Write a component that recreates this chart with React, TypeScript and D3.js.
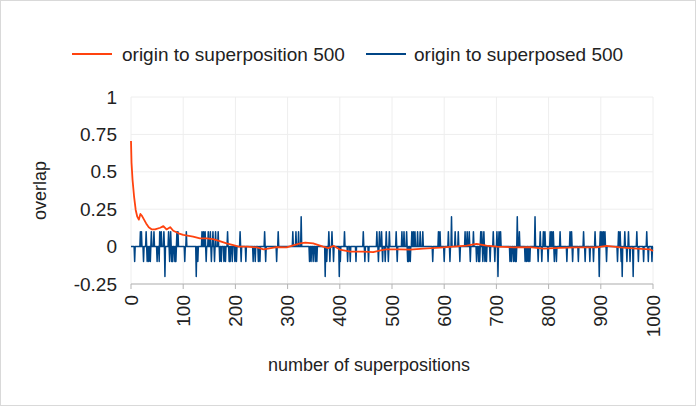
import React from "react";
import * as d3 from "d3";

// orange series: origin to superposition 500
const orangeX = [0, 1, 3, 6, 9, 12, 15, 18, 21, 25, 29, 34, 40, 46, 56, 62, 68, 75, 81, 91, 100, 119, 132, 145, 157, 170, 183, 196, 206, 222, 241, 254, 279, 298, 324, 334, 349, 368, 378, 388, 400, 420, 445, 464, 476, 489, 515, 535, 560, 592, 618, 643, 662, 681, 701, 733, 764, 790, 822, 854, 892, 911, 937, 969, 994, 1000];
const orangeY = [0.706, 0.56, 0.445, 0.33, 0.245, 0.2, 0.18, 0.218, 0.205, 0.18, 0.155, 0.13, 0.115, 0.115, 0.126, 0.137, 0.115, 0.13, 0.106, 0.089, 0.078, 0.066, 0.055, 0.055, 0.05, 0.037, 0.022, 0.01, 0, 0, -0.005, -0.018, -0.004, -0.005, 0.022, 0.027, 0.022, 0, -0.01, 0.005, -0.02, -0.033, -0.033, -0.037, -0.027, -0.018, -0.018, -0.02, -0.013, -0.007, 0, 0.007, 0.018, 0.007, 0, -0.005, -0.004, -0.013, -0.009, -0.005, -0.005, 0.005, -0.005, -0.013, -0.018, -0.03];

// blue series: origin to superposed 500, zero except at these steps
const blueSpikeX = [7, 18, 20, 24, 29, 31, 34, 37, 39, 44, 50, 54, 55, 58, 63, 65, 72, 74, 76, 78, 80, 84, 86, 88, 90, 103, 106, 125, 128, 136, 139, 142, 144, 148, 152, 154, 157, 160, 162, 167, 170, 173, 178, 181, 185, 188, 190, 194, 199, 202, 209, 211, 220, 234, 238, 244, 247, 256, 258, 279, 282, 310, 316, 321, 326, 342, 345, 349, 353, 356, 372, 375, 379, 381, 385, 388, 399, 401, 409, 415, 420, 431, 445, 448, 455, 471, 474, 476, 480, 482, 487, 489, 493, 495, 508, 510, 519, 523, 528, 530, 532, 535, 538, 541, 544, 549, 554, 559, 578, 589, 592, 600, 608, 611, 614, 621, 627, 630, 640, 644, 648, 650, 656, 662, 666, 668, 670, 672, 674, 676, 678, 681, 688, 694, 697, 701, 703, 705, 708, 726, 729, 733, 736, 738, 740, 744, 755, 758, 761, 764, 774, 780, 784, 787, 790, 793, 799, 803, 806, 809, 811, 815, 822, 835, 841, 844, 846, 857, 867, 870, 879, 886, 889, 897, 899, 902, 905, 908, 911, 932, 934, 937, 939, 941, 946, 950, 953, 956, 962, 969, 972, 982, 988, 991, 998];
const blueSpikeY = [-0.1, 0.1, 0.1, -0.1, 0.1, -0.1, -0.1, -0.1, 0.1, 0.1, -0.1, -0.1, 0.1, 0.1, 0.1, -0.2, 0.1, -0.1, 0.1, -0.1, -0.1, -0.1, -0.1, 0.1, 0.1, -0.1, 0.1, -0.2, -0.1, 0.1, 0.1, 0.1, -0.1, 0.1, 0.1, -0.1, 0.1, -0.1, 0.1, 0.1, -0.1, -0.1, -0.1, -0.1, 0.1, -0.1, -0.1, -0.1, -0.1, -0.1, 0.1, -0.1, -0.1, -0.1, -0.1, -0.1, -0.1, 0.1, -0.1, -0.1, 0.1, 0.1, 0.1, 0.1, 0.2, -0.1, -0.1, -0.1, -0.1, -0.1, -0.2, -0.1, 0.1, -0.1, 0.1, -0.1, -0.2, -0.1, 0.1, -0.1, -0.1, -0.1, 0.1, -0.1, -0.1, 0.1, -0.1, 0.1, 0.1, -0.1, -0.1, 0.1, -0.1, 0.1, 0.1, -0.1, 0.1, 0.1, 0.1, -0.1, -0.1, -0.1, 0.1, 0.1, 0.1, 0.1, 0.1, 0.1, -0.1, 0.1, 0.1, -0.1, 0.1, -0.1, 0.2, 0.1, 0.1, -0.1, 0.1, 0.1, 0.1, -0.1, 0.1, -0.1, -0.1, -0.1, 0.1, 0.1, -0.1, 0.1, -0.1, -0.1, -0.1, 0.1, -0.1, 0.1, -0.2, 0.1, 0.1, -0.1, -0.1, -0.1, -0.1, -0.1, 0.2, 0.1, -0.1, -0.1, -0.1, -0.1, 0.2, -0.1, 0.1, -0.1, 0.1, 0.1, -0.1, 0.1, 0.1, 0.1, -0.1, -0.1, 0.1, -0.1, 0.1, 0.1, -0.1, -0.1, 0.1, -0.1, -0.1, -0.1, 0.1, -0.2, 0.1, 0.1, 0.1, 0.1, -0.1, -0.1, 0.1, 0.1, -0.1, -0.2, 0.1, -0.1, 0.1, -0.1, -0.2, 0.1, -0.1, -0.1, 0.1, -0.1, -0.1];

const xTicks = [0, 100, 200, 300, 400, 500, 600, 700, 800, 900, 1000];
const yTicks = [-0.25, 0, 0.25, 0.5, 0.75, 1];
const seriesNames = ["origin to superposition 500", "origin to superposed 500"];
const colors = ["#ff420e", "#004586"];

const W = 696;
const H = 406;
const FONT = "'Liberation Sans', Arial, sans-serif";

export default function App() {
  const x = d3.scaleLinear().domain([0, 1000]).range([131, 653]);
  const y = d3.scaleLinear().domain([-0.25, 1]).range([284, 97]);

  const orange = orangeX.map((v, i) => [v, orangeY[i]] as [number, number]);
  const spikes = new Map(blueSpikeX.map((v, i) => [v, blueSpikeY[i]]));
  const blue = d3.range(0, 1001).map((i) => [i, spikes.get(i) ?? 0] as [number, number]);

  const line = d3
    .line<[number, number]>()
    .x((d) => x(d[0]))
    .y((d) => y(d[1]));

  return (
    <svg
      width={W}
      height={H}
      style={{ position: "absolute", left: 0, top: 0, fontFamily: FONT }}
    >
      <rect x={0.5} y={0.5} width={W - 1} height={H - 1} fill="#fff" stroke="#d9d9d9" />

      {/* grid */}
      {yTicks.map((t) => (
        <line key={"gy" + t} x1={x(0)} x2={x(1000)} y1={y(t)} y2={y(t)} stroke="#eeeeee" />
      ))}
      {xTicks.map((t) => (
        <line key={"gx" + t} x1={x(t)} x2={x(t)} y1={y(1)} y2={y(-0.25)} stroke="#eeeeee" />
      ))}

      {/* x axis */}
      <line x1={x(0)} x2={x(1000)} y1={y(-0.25)} y2={y(-0.25)} stroke="#b3b3b3" />
      {xTicks.map((t) => (
        <g key={"xt" + t}>
          <line x1={x(t)} x2={x(t)} y1={y(-0.25)} y2={y(-0.25) + 5} stroke="#b3b3b3" />
          <text
            transform={`translate(${x(t)},${y(-0.25) + 11}) rotate(-90)`}
            textAnchor="end"
            dominantBaseline="central"
            fontSize={19}
            fill="#222"
          >
            {t}
          </text>
        </g>
      ))}

      {yTicks.map((t) => (
        <text
          key={"yt" + t}
          x={117}
          y={y(t)}
          textAnchor="end"
          dominantBaseline="central"
          fontSize={19}
          fill="#222"
        >
          {t}
        </text>
      ))}

      {/* series */}
      <path d={line(blue) ?? ""} fill="none" stroke={colors[1]} strokeWidth={1.5} strokeLinejoin="round" />
      <path d={line(orange) ?? ""} fill="none" stroke={colors[0]} strokeWidth={1.8} strokeLinejoin="round" />

      {/* titles */}
      <text x={369} y={371} textAnchor="middle" fontSize={18} fill="#222">
        number of superpositions
      </text>
      <text
        transform={`translate(46,${(y(1) + y(-0.25)) / 2}) rotate(-90)`}
        textAnchor="middle"
        fontSize={18}
        fill="#222"
      >
        overlap
      </text>

      {/* legend */}
      <line x1={72} x2={112} y1={54} y2={54} stroke={colors[0]} strokeWidth={2} />
      <text x={122} y={54} dominantBaseline="central" fontSize={19} fill="#222">
        {seriesNames[0]}
      </text>
      <line x1={366} x2={406} y1={54} y2={54} stroke={colors[1]} strokeWidth={2} />
      <text x={414} y={54} dominantBaseline="central" fontSize={19} fill="#222">
        {seriesNames[1]}
      </text>
    </svg>
  );
}
